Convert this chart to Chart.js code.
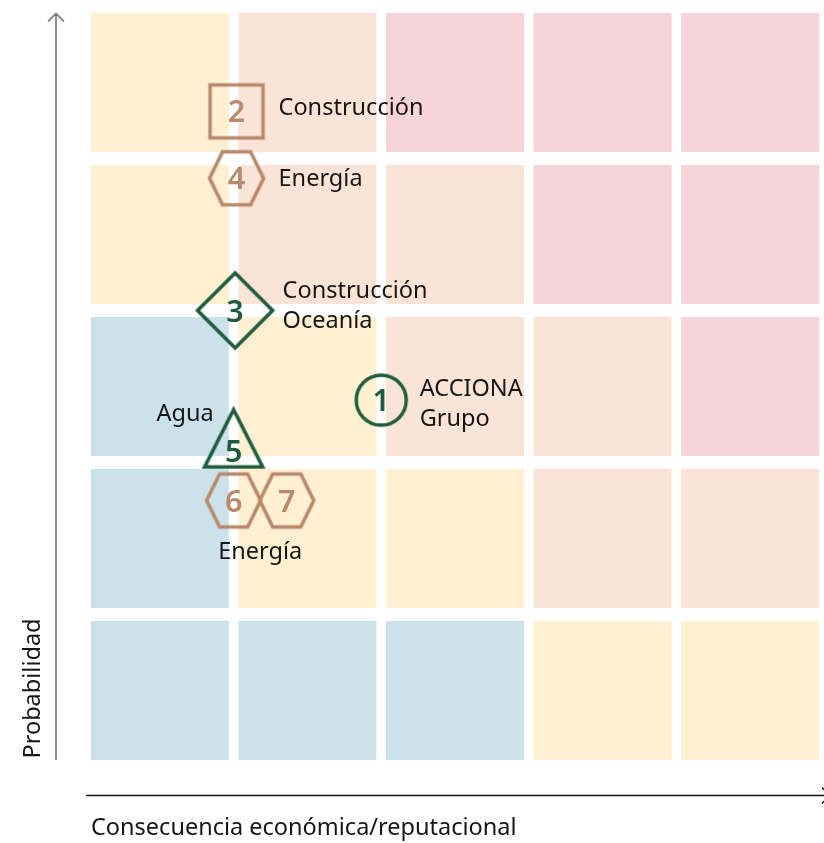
<!DOCTYPE html>
<html><head><meta charset="utf-8">
<script src="https://cdn.jsdelivr.net/npm/chart.js@4.4.1/dist/chart.umd.min.js"></script>
<style>html,body{margin:0;padding:0;background:#fff;}#wrap{width:824px;height:843px;position:relative;}</style>
</head><body><div id="wrap"><canvas id="c" width="824" height="843"></canvas></div>
<script>
// ---- data ----
const consequenceLevels = [1, 2, 3, 4, 5];
const probabilityLevels = [5, 4, 3, 2, 1]; // rows top to bottom
// risk level per cell (0 low/blue, 1 yellow, 2 peach, 3 high/pink), rows top to bottom
const riskRow5 = [1, 2, 3, 3, 3];
const riskRow4 = [1, 2, 2, 3, 3];
const riskRow3 = [0, 1, 2, 2, 3];
const riskRow2 = [0, 1, 1, 2, 2];
const riskRow1 = [0, 0, 0, 1, 1];
const riskMatrix = [riskRow5, riskRow4, riskRow3, riskRow2, riskRow1];

const greenIds = ['1', '3', '5'];
const greenConsequence = [2.0, 1.01, 1.0];
const greenProbability = [2.41, 3.0, 2.17];
const greenShapes = ['circle', 'diamond', 'triangle'];

const brownIds = ['2', '4', '6', '7'];
const brownConsequence = [1.02, 1.02, 1.0, 1.36];
const brownProbability = [4.31, 3.87, 1.75, 1.75];
const brownShapes = ['square', 'hexagon', 'hexagon', 'hexagon'];

const labelLines = [['ACCIONA', 'Grupo'], ['Construcción'], ['Construcción', 'Oceanía'], ['Energía'], ['Agua'], ['Energía']];
const xAxisTitle = 'Consecuencia económica/reputacional';
const yAxisTitle = 'Probabilidad';

// ---- styles ----
const cellColors = ['#cce2ea', '#fef0d0', '#fae4d7', '#f6d3d8'];
const GREEN = '#1f5b3d';
const BROWN = '#b9896d';
const TEXT = '#161616';
const FONT = '"Noto Sans", "Open Sans", sans-serif';
const LABEL_FONT = '23.5px ' + FONT;
const NUMBER_FONT = '600 30.5px ' + FONT;

function makeMarker(shape, color) {
  const cv = document.createElement('canvas');
  cv.width = 100; cv.height = 100;
  const g = cv.getContext('2d');
  g.translate(50, 50);
  g.strokeStyle = color;
  g.lineWidth = 3.6;
  g.lineJoin = 'miter';
  g.beginPath();
  if (shape === 'circle') {
    g.lineWidth = 3.4;
    g.arc(0, 0, 25, 0, Math.PI * 2);
  } else if (shape === 'square') {
    g.rect(-26.5, -26.5, 53, 53);
  } else if (shape === 'diamond') {
    g.moveTo(0, -37.5); g.lineTo(37.5, 0); g.lineTo(0, 37.5); g.lineTo(-37.5, 0); g.closePath();
  } else if (shape === 'hexagon') {
    g.moveTo(-27, 0); g.lineTo(-14, -26.5); g.lineTo(14, -26.5); g.lineTo(27, 0); g.lineTo(14, 26.5); g.lineTo(-14, 26.5); g.closePath();
  } else if (shape === 'triangle') {
    g.moveTo(0, -27); g.lineTo(29, 30.2); g.lineTo(-29, 30.2); g.closePath();
  }
  g.stroke();
  return cv;
}

const numberOffsetY = { circle: 0, square: 0, diamond: 0, hexagon: 0, triangle: 14.5 };

const cellPlugin = {
  id: 'cells',
  beforeDatasetsDraw(chart) {
    const { ctx, scales: { x, y } } = chart;
    ctx.save();
    riskMatrix.forEach((row, r) => {
      const p = probabilityLevels[r];
      row.forEach((lvl, c) => {
        const cl = consequenceLevels[c];
        const x0 = x.getPixelForValue(cl - 1) + 4.8;
        const x1 = x.getPixelForValue(cl) - 4.8;
        const y0 = y.getPixelForValue(p) + 6.5;
        const y1 = y.getPixelForValue(p - 1) - 6.5;
        ctx.fillStyle = cellColors[lvl];
        ctx.fillRect(x0, y0, x1 - x0, y1 - y0);
      });
    });
    ctx.restore();
  }
};

const textPlugin = {
  id: 'texts',
  afterDatasetsDraw(chart) {
    const { ctx, chartArea } = chart;
    ctx.save();
    // numbers
    chart.data.datasets.forEach((ds, di) => {
      const meta = chart.getDatasetMeta(di);
      meta.data.forEach((pt, i) => {
        ctx.fillStyle = ds.numColor;
        ctx.font = NUMBER_FONT;
        ctx.textAlign = 'center';
        ctx.textBaseline = 'alphabetic';
        ctx.fillText(ds.ids[i], pt.x, pt.y + 11 + numberOffsetY[ds.shapes[i]]);
      });
    });
    const g = chart.getDatasetMeta(0).data; // green: 1,3,5
    const b = chart.getDatasetMeta(1).data; // brown: 2,4,6,7
    ctx.fillStyle = TEXT;
    ctx.font = LABEL_FONT;
    ctx.textBaseline = 'alphabetic';
    const put = (lines, x, y, align) => {
      ctx.textAlign = align;
      lines.forEach((t, k) => ctx.fillText(t, x, y + k * 29.5));
    };
    put(labelLines[0], g[0].x + 38.5, g[0].y - 4, 'left');
    put(labelLines[1], b[0].x + 42, b[0].y + 4, 'left');
    put(labelLines[2], g[1].x + 47.5, g[1].y - 12.5, 'left');
    put(labelLines[3], b[1].x + 42, b[1].y + 7.5, 'left');
    put(labelLines[4], g[2].x - 20, g[2].y - 16, 'right');
    put(labelLines[5], (b[2].x + b[3].x) / 2, b[2].y + 58.5, 'center');

    // axes
    ctx.lineWidth = 1.5;
    ctx.strokeStyle = '#6e6e6e';
    ctx.beginPath();
    ctx.moveTo(56, chartArea.bottom - 6.5); ctx.lineTo(56, 13.5);
    ctx.moveTo(48, 21.5); ctx.lineTo(56, 13.5); ctx.lineTo(64, 21.5);
    ctx.stroke();
    ctx.strokeStyle = '#111';
    ctx.beginPath();
    ctx.moveTo(chartArea.left, 795.5); ctx.lineTo(830, 795.5);
    ctx.moveTo(822, 787.5); ctx.lineTo(830, 795.5); ctx.lineTo(822, 803.5);
    ctx.stroke();
    // titles
    ctx.fillStyle = TEXT;
    ctx.font = LABEL_FONT;
    ctx.textAlign = 'left';
    ctx.fillText(xAxisTitle, chartArea.left + 5, 835);
    ctx.save();
    ctx.translate(40, chartArea.bottom - 8);
    ctx.rotate(-Math.PI / 2);
    ctx.fillText(yAxisTitle, 0, 0);
    ctx.restore();
    ctx.restore();
  }
};

new Chart(document.getElementById('c'), {
  type: 'scatter',
  data: {
    datasets: [
      {
        data: greenConsequence.map((v, i) => ({ x: v, y: greenProbability[i] })),
        pointStyle: greenShapes.map(s => makeMarker(s, GREEN)),
        pointRadius: 20, pointHoverRadius: 20,
        ids: greenIds, shapes: greenShapes, numColor: GREEN, clip: false
      },
      {
        data: brownConsequence.map((v, i) => ({ x: v, y: brownProbability[i] })),
        pointStyle: brownShapes.map(s => makeMarker(s, BROWN)),
        pointRadius: 20, pointHoverRadius: 20,
        ids: brownIds, shapes: brownShapes, numColor: BROWN, clip: false
      }
    ]
  },
  options: {
    responsive: false,
    animation: false,
    devicePixelRatio: 1,
    layout: { autoPadding: false, padding: { left: 86, right: 0, top: 6.5, bottom: 76.5 } },
    plugins: { legend: { display: false }, tooltip: { enabled: false } },
    scales: {
      x: { type: 'linear', min: 0, max: 5, display: false },
      y: { type: 'linear', min: 0, max: 5, display: false }
    },
    events: []
  },
  plugins: [cellPlugin, textPlugin]
});
</script>
</body></html>
